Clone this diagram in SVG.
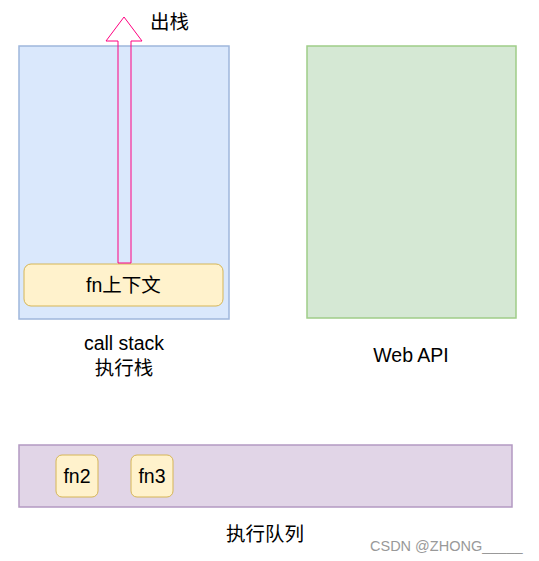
<svg xmlns="http://www.w3.org/2000/svg" width="539" height="561" viewBox="0 0 539 561">
<style>
text{font-family:"Liberation Sans","Noto Sans CJK SC",sans-serif;font-size:19.5px;fill:#000}
.c{text-anchor:middle}
.item{fill:#fff2cc;stroke:#d6b656;stroke-width:1}
</style>
<rect width="539" height="561" fill="#fff"/>
<g id="callstack">
<rect x="19" y="46" width="210" height="273" fill="#dae8fc" stroke="#9fb7dc" stroke-width="1.5"/>
<text class="c" x="124" y="350">call stack</text>
<text class="c" x="124" y="375">执行栈</text>
</g>
<g id="webapi">
<rect x="307" y="46" width="209" height="272" fill="#d5e8d4" stroke="#9fcd88" stroke-width="1.5"/>
<text class="c" x="411" y="362">Web API</text>
</g>
<g id="queue">
<rect x="19" y="445" width="493" height="62" fill="#e1d5e7" stroke="#b399c2" stroke-width="1.5"/>
<text class="c" x="265" y="541">执行队列</text>
</g>
<g id="fnctx">
<rect class="item" x="24" y="264" width="199" height="42" rx="7"/>
<text class="c" x="123.5" y="292">fn上下文</text>
</g>
<g id="fn2">
<rect class="item" x="56" y="455" width="42" height="42" rx="6"/>
<text class="c" x="77" y="483">fn2</text>
</g>
<g id="fn3">
<rect class="item" x="131" y="455" width="42" height="42" rx="6"/>
<text class="c" x="152" y="483">fn3</text>
</g>
<g id="connectors">
<polygon points="118,263 118,41 106,41 124,17 142,41 131,41 131,263" fill="none" stroke="#ff0080" stroke-width="1"/>
<text x="150" y="29">出栈</text>
</g>
<text x="370" y="551" style="font-size:14.5px;fill:#999">CSDN @ZHONG_____</text>
</svg>
